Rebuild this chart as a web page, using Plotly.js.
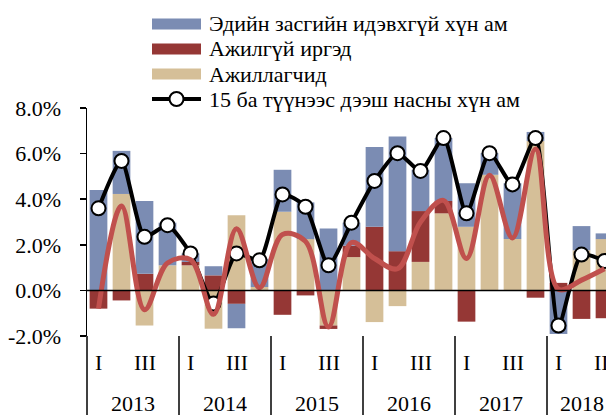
<!DOCTYPE html>
<html>
<head>
<meta charset="utf-8">
<script src="https://cdn.plot.ly/plotly-3.0.1.min.js"></script>
<style>
  html, body { margin: 0; padding: 0; background: #fff; }
  #chart { width: 606px; height: 415px; }
</style>
</head>
<body>
<div id="chart"></div>
<script>
// ---- Data (percent contributions) ----
const years = ['2013', '2014', '2015', '2016', '2017', '2018'];
const quartersPerYear = [4, 4, 4, 4, 4, 3];
const quarterLabels = ['I', '', 'III', ''];

const seriesNames = [
  'Эдийн засгийн идэвхгүй хүн ам',
  'Ажилгүй иргэд',
  'Ажиллагчид',
  '15 ба түүнээс дээш насны хүн ам'
];

// Ажиллагчид (employed)
const employed = [0.00, 4.23, -1.54, 1.10, 1.10, -1.68, 3.30, 0.15, 3.45, 2.25, -1.54, 1.46,
                  -1.39, -0.69, 1.25, 3.38, 2.79, 5.07, 2.25, 6.55, 0.00, 1.76, 2.25];
// Ажилгүй иргэд (unemployed)
const unemployed = [-0.80, -0.44, 0.73, 0.00, 0.15, 0.66, -0.59, 0.00, -1.07, -0.22, -0.15, 0.50,
                    2.79, 1.72, 2.23, 0.54, -1.37, 0.00, 0.00, -0.32, 0.33, -1.25, -1.22];
// Эдийн засгийн идэвхгүй хүн ам (inactive)
const inactive = [4.40, 1.89, 3.19, 1.87, 0.37, 0.40, -1.07, 1.24, 1.84, 1.61, 2.72, 1.01,
                  3.50, 5.03, 1.81, 2.76, 1.91, 0.95, 2.45, 0.40, -1.91, 1.06, 0.25];
// 15 ба түүнээс дээш насны хүн ам (population 15+)
const population = [3.60, 5.68, 2.35, 2.86, 1.62, -0.58, 1.62, 1.32, 4.21, 3.67, 1.10, 2.97,
                    4.80, 6.02, 5.24, 6.68, 3.38, 6.02, 4.65, 6.68, -1.54, 1.57, 1.29];
// Smoothed trend line (red curve, no legend entry)
const trend = [-0.80, 3.70, -0.85, 1.20, 1.35, -1.05, 2.70, 0.12, 2.45, 2.15, -1.60, 2.10,
               1.40, 0.95, 3.00, 3.95, 1.40, 5.05, 2.30, 6.20, 0.05, 0.45, 0.95];

const yTicks = [-2, 0, 2, 4, 6, 8];
const yTickText = yTicks.map(v => v.toFixed(1) + '%');

// ---- Colours ----
const C_BLUE = '#7b8cb3';
const C_RED = '#953735';
const C_TAN = '#d5bf98';
const C_TREND = '#c0504d';

// ---- Build x positions from data ----
const x = [];
const qText = [];
const yearCenters = [];
const dividers = [];
let idx = 0;
years.forEach((yr, k) => {
  const n = quartersPerYear[k];
  const start = idx;
  for (let q = 0; q < n; q++) { x.push(idx); qText.push(quarterLabels[q]); idx++; }
  yearCenters.push((start + idx - 1) / 2);
  if (k > 0) dividers.push(start - 0.5);
});

// ---- Layout geometry ----
const W = 606, H = 415;
const M = { l: 87, r: 0, t: 108, b: 79 };
const PW = W - M.l - M.r, PH = H - M.t - M.b;
const px = v => (v - M.l) / PW;
const py = v => (H - M.b - v) / PH;

const FONT = 'Liberation Serif';
const FS = 22;

const traces = [
  { type: 'bar', x: x, y: employed, name: seriesNames[2], marker: { color: C_TAN, line: { width: 0 } }, showlegend: false, hoverinfo: 'skip' },
  { type: 'bar', x: x, y: unemployed, name: seriesNames[1], marker: { color: C_RED, line: { width: 0 } }, showlegend: false, hoverinfo: 'skip' },
  { type: 'bar', x: x, y: inactive, name: seriesNames[0], marker: { color: C_BLUE, line: { width: 0 } }, showlegend: false, hoverinfo: 'skip' },
  { type: 'scatter', mode: 'lines+markers', x: x, y: population, name: seriesNames[3],
    line: { color: '#000', width: 4, shape: 'spline', smoothing: 0.6 },
    marker: { size: 14, color: '#fff', line: { color: '#000', width: 2 } },
    showlegend: false, hoverinfo: 'skip', cliponaxis: false },
  { type: 'scatter', mode: 'lines', x: x, y: trend, name: 'trend',
    line: { color: C_TREND, width: 5, shape: 'spline', smoothing: 1 },
    showlegend: false, hoverinfo: 'skip' }
];

const shapes = [];
const annotations = [];

// zero line
shapes.push({ type: 'line', xref: 'paper', yref: 'y', x0: 0, x1: 1, y0: 0, y1: 0,
  line: { color: '#000', width: 1.5 }, layer: 'above' });
// y-axis line extension below the plot
shapes.push({ type: 'line', xref: 'paper', yref: 'paper', x0: 0, x1: 0, y0: 0, y1: py(H + 5),
  line: { color: '#000', width: 1.5 } });
// year dividers
dividers.forEach(d => shapes.push({ type: 'line', xref: 'x', yref: 'paper', x0: d, x1: d, y0: 0, y1: py(H + 5),
  line: { color: '#000', width: 1.5 } }));

// quarter labels
x.forEach((xi, i) => {
  if (qText[i]) annotations.push({ xref: 'x', yref: 'paper', x: xi, y: py(362), text: qText[i],
    showarrow: false, xanchor: 'center', yanchor: 'middle', font: { family: FONT, size: FS, color: '#000' } });
});
// year labels
years.forEach((yr, k) => annotations.push({ xref: 'x', yref: 'paper', x: yearCenters[k], y: py(403), text: yr,
  showarrow: false, xanchor: 'center', yanchor: 'middle', font: { family: FONT, size: FS, color: '#000' } }));

// custom legend
const legX0 = 152, legX1 = 201, legTextX = 207;
const legRows = [24, 49, 74, 99];
const legColors = [C_BLUE, C_RED, C_TAN];
legColors.forEach((c, i) => {
  shapes.push({ type: 'rect', xref: 'paper', yref: 'paper', x0: px(legX0), x1: px(legX1),
    y0: py(legRows[i] - 5.5), y1: py(legRows[i] + 5.5), fillcolor: c, line: { width: 0 } });
});
shapes.push({ type: 'line', xref: 'paper', yref: 'paper', x0: px(legX0), x1: px(legX1),
  y0: py(legRows[3]), y1: py(legRows[3]), line: { color: '#000', width: 4 } });
shapes.push({ type: 'circle', xref: 'paper', yref: 'paper', xsizemode: 'pixel', ysizemode: 'pixel',
  xanchor: px((legX0 + legX1) / 2), yanchor: py(legRows[3]), x0: -7, x1: 7, y0: -7, y1: 7,
  fillcolor: '#fff', line: { color: '#000', width: 2 } });
seriesNames.forEach((nm, i) => annotations.push({ xref: 'paper', yref: 'paper', x: px(legTextX), y: py(legRows[i]),
  text: nm, showarrow: false, xanchor: 'left', yanchor: 'middle', font: { family: FONT, size: FS, color: '#000' } }));

const layout = {
  width: W, height: H,
  margin: M,
  paper_bgcolor: '#fff', plot_bgcolor: '#fff',
  barmode: 'relative', bargap: 0.23,
  showlegend: false,
  font: { family: FONT, size: FS, color: '#000' },
  xaxis: { type: 'linear', range: [-0.5, -0.5 + PW / 23], showticklabels: false, showgrid: false,
    zeroline: false, showline: false, ticks: '', fixedrange: true },
  yaxis: { range: [-2, 8], tickmode: 'array', tickvals: yTicks, ticktext: yTickText,
    showgrid: false, zeroline: false, showline: true, linecolor: '#000', linewidth: 1.5,
    ticks: 'outside', ticklen: 6, tickwidth: 1.5, tickcolor: '#000', ticklabelstandoff: 14,
    tickfont: { family: FONT, size: FS, color: '#000' }, fixedrange: true },
  shapes: shapes,
  annotations: annotations
};

Plotly.newPlot('chart', traces, layout, { displayModeBar: false, staticPlot: true });
</script>
</body>
</html>
